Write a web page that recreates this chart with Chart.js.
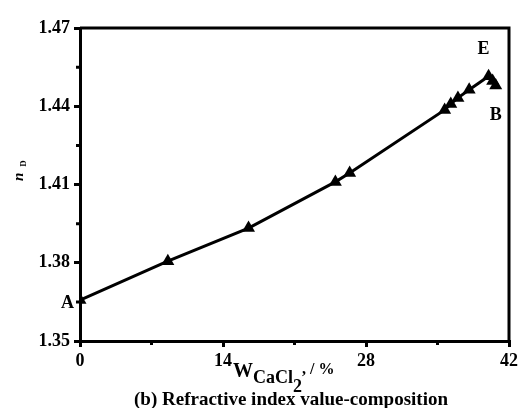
<!DOCTYPE html>
<html>
<head>
<meta charset="utf-8">
<script src="https://cdn.jsdelivr.net/npm/chart.js@4/dist/chart.umd.min.js"></script>
<style>
  body { margin: 0; background: #fff; }
  canvas { display: block; }
</style>
</head>
<body>
<canvas id="chart" width="518" height="408"></canvas>
<script>
// mass fraction of CaCl2 (%) and refractive index nD
const wCaCl2 = [0, 8.6, 16.5, 25.0, 26.4, 35.7, 36.3, 37.0, 38.1, 40.0, 40.4, 40.7];
const nD = [1.3657, 1.3806, 1.3933, 1.4110, 1.4144, 1.4386, 1.4409, 1.4432, 1.4463, 1.4515, 1.4497, 1.4480];
const pointNames = ['A', '', '', '', '', '', '', '', '', 'E', '', 'B'];
const xTicks = [0, 14, 28, 42];
const yTicks = [1.35, 1.38, 1.41, 1.44, 1.47];
const xMinor = [7, 21, 35];
const yMinor = [1.365, 1.395, 1.425, 1.455];

const serif = '"Liberation Serif", "Times New Roman", serif';

const points = wCaCl2.map((w, i) => ({ x: w, y: nD[i] }));

// frame, minor ticks, point names and axis titles
const extras = {
  id: 'extras',
  afterDraw(chart) {
    const c = chart.ctx;
    const area = chart.chartArea;
    const xs = chart.scales.x;
    const ys = chart.scales.y;
    c.save();
    c.strokeStyle = '#000';
    c.lineWidth = 3;
    c.beginPath();
    c.moveTo(area.left, area.top);
    c.lineTo(area.right, area.top);
    c.lineTo(area.right, area.bottom);
    c.stroke();

    c.beginPath();
    xMinor.forEach(v => {
      const px = xs.getPixelForValue(v);
      c.moveTo(px, area.bottom);
      c.lineTo(px, area.bottom + 4);
    });
    yMinor.forEach(v => {
      const py = ys.getPixelForValue(v);
      c.moveTo(area.left, py);
      c.lineTo(area.left - 4, py);
    });
    c.stroke();

    c.fillStyle = '#000';
    c.font = 'bold 18px ' + serif;
    c.textBaseline = 'middle';
    pointNames.forEach((name, i) => {
      if (!name) return;
      const px = xs.getPixelForValue(wCaCl2[i]);
      const py = ys.getPixelForValue(nD[i]);
      if (name === 'A') {
        c.textAlign = 'right';
        c.fillText(name, px - 6, py + 3);
      } else if (name === 'E') {
        c.textAlign = 'center';
        c.fillText(name, px - 5, py - 27);
      } else {
        c.textAlign = 'center';
        c.fillText(name, px, py + 30);
      }
    });

    // x axis title: W CaCl2, / %
    c.textAlign = 'left';
    c.textBaseline = 'alphabetic';
    let tx = 233;
    c.font = 'bold 20px ' + serif;
    c.fillText('W', tx, 377);
    tx += c.measureText('W').width;
    c.font = 'bold 18px ' + serif;
    c.fillText('CaCl', tx, 383);
    tx += c.measureText('CaCl').width;
    c.fillText('2', tx, 392);
    tx += c.measureText('2').width;
    c.font = 'bold 16px ' + serif;
    c.fillText(', / %', tx, 374);

    // figure caption
    c.font = 'bold 19px ' + serif;
    c.textAlign = 'center';
    c.fillText('(b) Refractive index value-composition', 291, 405);

    // y axis title: n with subscript D
    c.translate(23, 181);
    c.rotate(-Math.PI / 2);
    c.textAlign = 'left';
    c.font = 'italic bold 15px ' + serif;
    c.fillText('n', 0, 0);
    const nw = c.measureText('n').width;
    c.font = 'bold 9px ' + serif;
    c.fillText('D', nw + 6, 3);
    c.restore();
  }
};

new Chart(document.getElementById('chart'), {
  type: 'scatter',
  data: {
    datasets: [{
      data: points,
      showLine: true,
      borderColor: '#000',
      borderWidth: 3,
      backgroundColor: '#000',
      pointStyle: 'triangle',
      pointRadius: 7.5,
      pointBorderWidth: 0,
      pointBackgroundColor: '#000'
    }]
  },
  options: {
    responsive: false,
    animation: false,
    layout: { padding: { top: 28, right: 9, left: 0, bottom: 0 } },
    plugins: {
      legend: { display: false },
      tooltip: { enabled: false }
    },
    scales: {
      x: {
        type: 'linear',
        min: 0,
        max: 42,
        afterBuildTicks: s => { s.ticks = xTicks.map(v => ({ value: v })); },
        afterFit: s => { s.height = 67; s.paddingLeft = 0; s.paddingRight = 0; },
        ticks: {
          color: '#000',
          padding: 4,
          maxRotation: 0,
          font: { family: serif, weight: 'bold', size: 18 }
        },
        grid: { drawOnChartArea: false, color: '#000', lineWidth: 3, tickLength: 6 },
        border: { color: '#000', width: 3 }
      },
      y: {
        min: 1.35,
        max: 1.47,
        afterBuildTicks: s => { s.ticks = yTicks.map(v => ({ value: v })); },
        afterFit: s => { s.width = 80; s.paddingTop = 0; s.paddingBottom = 0; },
        ticks: {
          color: '#000',
          padding: 4,
          callback: v => v.toFixed(2),
          font: { family: serif, weight: 'bold', size: 18 }
        },
        grid: { drawOnChartArea: false, color: '#000', lineWidth: 3, tickLength: 6 },
        border: { color: '#000', width: 3 }
      }
    }
  },
  plugins: [extras]
});
</script>
</body>
</html>
